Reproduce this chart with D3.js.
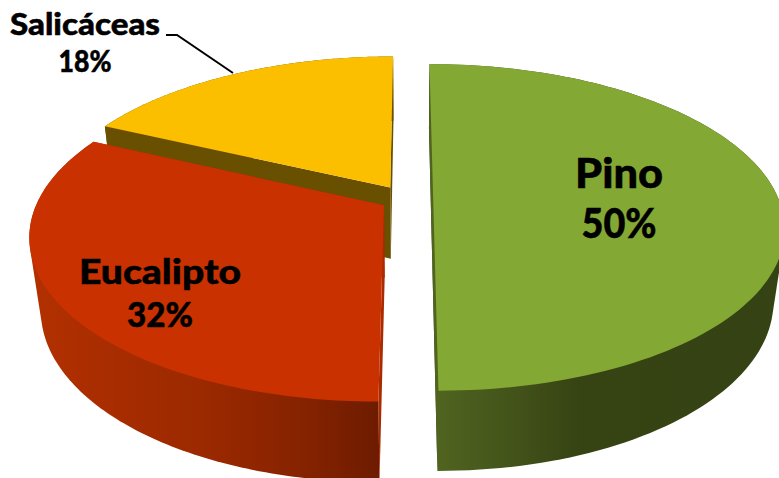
<!DOCTYPE html>
<html>
<head>
<meta charset="utf-8">
<script src="https://cdn.jsdelivr.net/npm/d3@7/dist/d3.min.js"></script>
<style>
  html, body { margin: 0; padding: 0; background: #fff; }
  svg { display: block; }
  text { font-family: Lato, "Open Sans", sans-serif; font-weight: 900; fill: #000; stroke: #000; stroke-width: 0.5px; text-anchor: middle; }
</style>
</head>
<body>
<svg id="chart" width="779" height="478"></svg>
<script>
// Forest plantation share by species
const categories = ["Pino", "Eucalipto", "Salicáceas"];
const shares = [50, 32, 18];

const topColors = ["#84a834", "#c93200", "#fcbf00"];
const faceColors = ["#3c4a15", "#ab2b00", "#694f00"];

// How far each wedge is pulled out of the disc, across and away from the viewer
const pullAcross = [0.07, -0.072, -0.055];
const pullAway = [0, -0.046, 0.068];

// Perspective camera for the extruded disc
const view = { cx: 409, cy: 198, rx: 345, ry: 158, tilt: 0.18, depth: 74, recede: 0.03 };

const svg = d3.select("#chart");
const defs = svg.append("defs");

function sideGradient(id, stops) {
  const g = defs.append("linearGradient").attr("id", id)
    .attr("gradientUnits", "userSpaceOnUse")
    .attr("x1", stops[0][0]).attr("x2", stops[stops.length - 1][0])
    .attr("y1", 0).attr("y2", 0);
  const x = d3.scaleLinear()
    .domain([stops[0][0], stops[stops.length - 1][0]]).range([0, 1]);
  stops.forEach(s => g.append("stop").attr("offset", x(s[0])).attr("stop-color", s[1]));
}
sideGradient("wall0", [[439, "#50631f"], [500, "#45561b"], [580, "#364313"], [780, "#354213"]]);
sideGradient("wall1", [[36, "#b23000"], [200, "#9c2900"], [300, "#862300"], [381, "#6d1b00"]]);

// Maps a disc position (u across, v away from the viewer, z = 0 top, 1 bottom) to the page
function project(u, v, z) {
  const w = 1 + view.tilt * v + view.recede * z;
  return [
    view.cx + view.rx * u / w,
    view.cy + (-view.ry * v + view.depth * z) / w
  ];
}

const pie = d3.pie().sort(null).value(d => d).startAngle(0).endAngle(2 * Math.PI);
const slices = pie(shares).map((d, i) => ({ ...d, i, ou: pullAcross[i], ov: pullAway[i] }));

const rim = (s, a, z) => project(s.ou + Math.sin(a), s.ov + Math.cos(a), z);
const apex = (s, z) => project(s.ou, s.ov, z);
const arcAngles = s => d3.range(0, 121).map(k => s.startAngle + (s.endAngle - s.startAngle) * k / 120);
const line = d3.line();

// Back to front: Salicáceas, Eucalipto, Pino
[slices[2], slices[1], slices[0]].forEach(s => {
  const g = svg.append("g").attr("class", "slice").attr("data-name", categories[s.i]);
  const angles = arcAngles(s);

  // Cut faces on either side of the wedge
  [s.startAngle, s.endAngle].forEach(a => {
    g.append("path")
      .attr("d", line([apex(s, 0), rim(s, a, 0), rim(s, a, 1), apex(s, 1)]) + "Z")
      .attr("fill", faceColors[s.i]);
  });

  // Outer wall: the swept outline of the rim between the two faces of the disc
  const wall = d3.polygonHull(angles.map(a => rim(s, a, 0)).concat(angles.map(a => rim(s, a, 1))));
  g.append("path")
    .attr("d", line(wall) + "Z")
    .attr("fill", s.i === 2 ? faceColors[2] : `url(#wall${s.i})`);

  // Top surface
  const top = [apex(s, 0)].concat(angles.map(a => rim(s, a, 0)));
  g.append("path").attr("d", line(top) + "Z").attr("fill", topColors[s.i]);
});

// Leader from the Salicáceas label to its slice
svg.append("path")
  .attr("d", line([[166, 35], [177, 35], [233, 73]]))
  .attr("fill", "none").attr("stroke", "#000").attr("stroke-width", 2);

const labels = [
  { i: 0, x: 619, y1: 188, y2: 238, size: 41, w1: 88, w2: 75 },
  { i: 1, x: 160, y1: 284, y2: 327, size: 35, w1: 162, w2: 66 },
  { i: 2, x: 85, y1: 35, y2: 72, size: 30, w1: 150, w2: 53 }
];
labels.forEach(l => {
  [[categories[l.i], l.y1, l.w1], [shares[l.i] + "%", l.y2, l.w2]].forEach(([txt, y, w]) => {
    svg.append("text")
      .attr("x", l.x).attr("y", y)
      .attr("font-size", l.size)
      .attr("textLength", w)
      .attr("lengthAdjust", "spacingAndGlyphs")
      .text(txt);
  });
});
</script>
</body>
</html>
